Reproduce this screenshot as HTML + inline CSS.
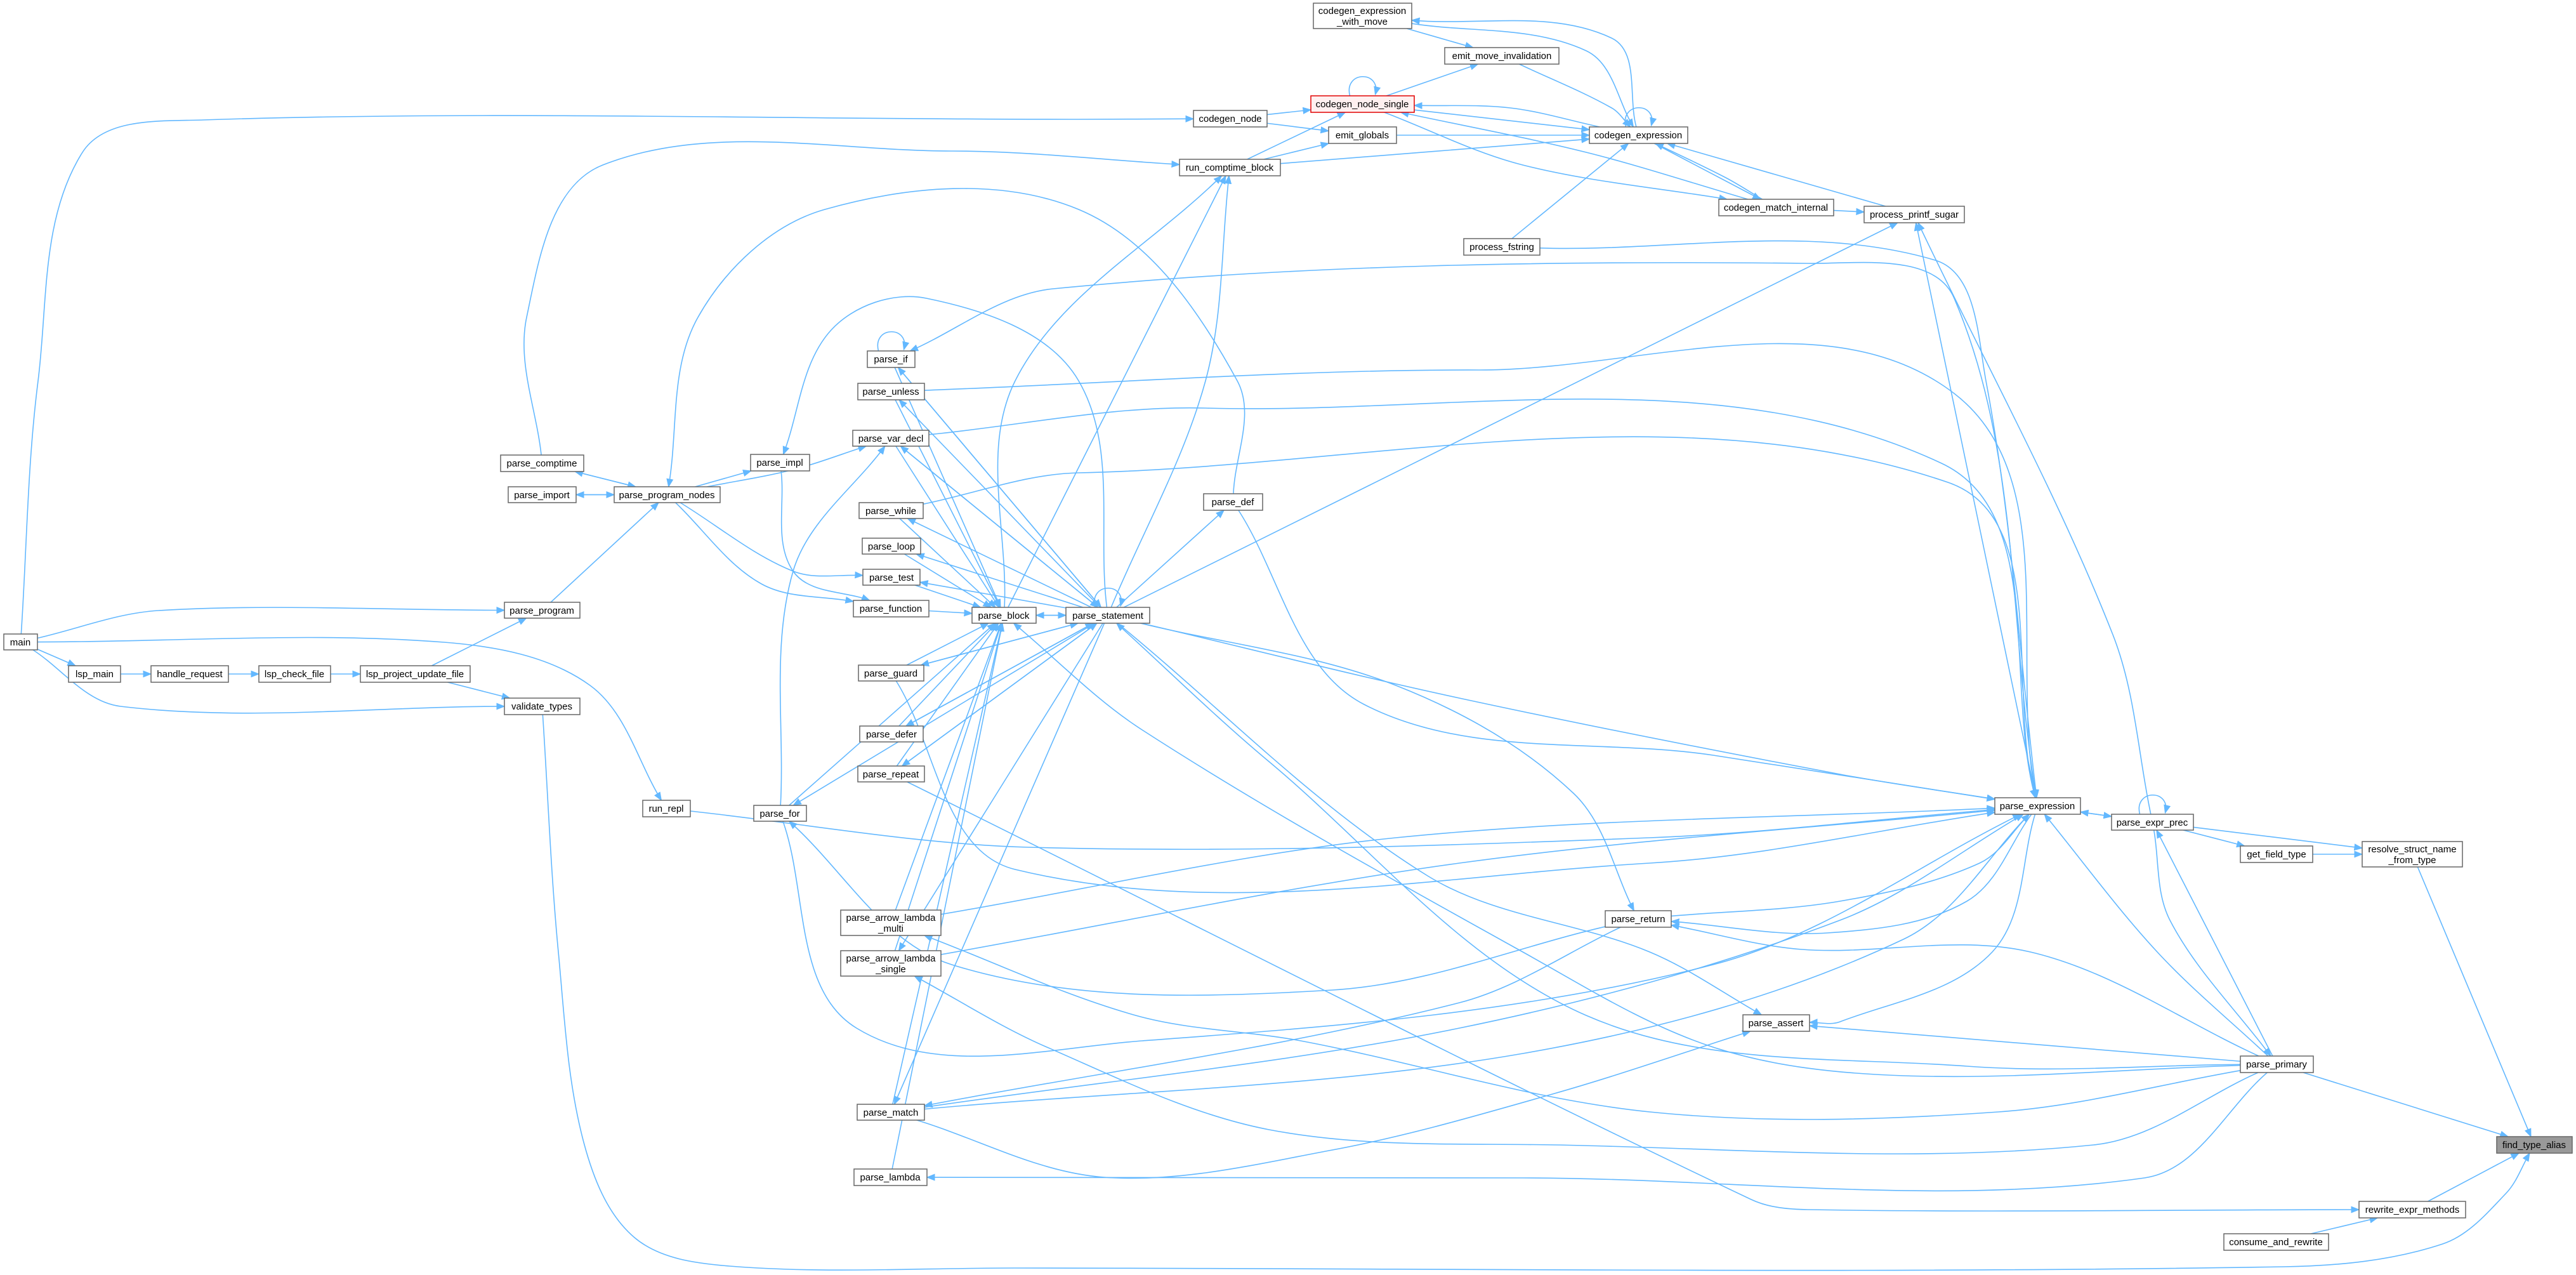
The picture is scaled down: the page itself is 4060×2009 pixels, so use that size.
<!DOCTYPE html>
<html><head><meta charset="utf-8">
<style>
html,body{margin:0;padding:0;background:#fff;}
svg{display:block;}
text{font-family:"Liberation Sans",sans-serif;font-size:15px;fill:#000;}
</style></head>
<body>
<svg id="s" width="4060" height="2009" viewBox="0 0 4060 2009" xmlns="http://www.w3.org/2000/svg">
<defs>
<marker id="a" viewBox="0 0 10 10" refX="9" refY="5" markerWidth="14" markerHeight="14" markerUnits="userSpaceOnUse" orient="auto">
<path d="M0,1 L10,5 L0,9 z" fill="#63b8ff"/></marker>
</defs>
<g id="edges" fill="none" stroke="#63b8ff" stroke-width="1.6"></g>
<g id="nodes" stroke="#666" stroke-width="1.5">
<g id="main"><rect x="6" y="999" width="53" height="25" fill="#fff"/><text x="32" y="1017" text-anchor="middle" stroke="none">main</text></g>
<g id="lsp_main"><rect x="108" y="1049" width="82" height="26" fill="#fff"/><text x="149" y="1067" text-anchor="middle" stroke="none">lsp_main</text></g>
<g id="handle_request"><rect x="238" y="1049" width="122" height="26" fill="#fff"/><text x="299" y="1067" text-anchor="middle" stroke="none">handle_request</text></g>
<g id="lsp_check_file"><rect x="408" y="1049" width="113" height="26" fill="#fff"/><text x="464" y="1067" text-anchor="middle" stroke="none">lsp_check_file</text></g>
<g id="lsp_project_update_file"><rect x="568" y="1049" width="173" height="26" fill="#fff"/><text x="654" y="1067" text-anchor="middle" stroke="none">lsp_project_update_file</text></g>
<g id="parse_program"><rect x="795" y="949" width="119" height="25" fill="#fff"/><text x="854" y="967" text-anchor="middle" stroke="none">parse_program</text></g>
<g id="validate_types"><rect x="795" y="1100" width="119" height="26" fill="#fff"/><text x="854" y="1118" text-anchor="middle" stroke="none">validate_types</text></g>
<g id="run_repl"><rect x="1013" y="1261" width="75" height="26" fill="#fff"/><text x="1050" y="1279" text-anchor="middle" stroke="none">run_repl</text></g>
<g id="parse_comptime"><rect x="789" y="717" width="131" height="26" fill="#fff"/><text x="854" y="735" text-anchor="middle" stroke="none">parse_comptime</text></g>
<g id="parse_import"><rect x="801" y="767" width="107" height="25" fill="#fff"/><text x="854" y="785" text-anchor="middle" stroke="none">parse_import</text></g>
<g id="parse_program_nodes"><rect x="968" y="767" width="167" height="25" fill="#fff"/><text x="1051" y="785" text-anchor="middle" stroke="none">parse_program_nodes</text></g>
<g id="parse_impl"><rect x="1183" y="716" width="93" height="26" fill="#fff"/><text x="1229" y="734" text-anchor="middle" stroke="none">parse_impl</text></g>
<g id="parse_if"><rect x="1367" y="553" width="75" height="26" fill="#fff"/><text x="1404" y="571" text-anchor="middle" stroke="none">parse_if</text></g>
<g id="parse_unless"><rect x="1352" y="604" width="105" height="26" fill="#fff"/><text x="1404" y="622" text-anchor="middle" stroke="none">parse_unless</text></g>
<g id="parse_var_decl"><rect x="1344" y="678" width="120" height="25" fill="#fff"/><text x="1404" y="696" text-anchor="middle" stroke="none">parse_var_decl</text></g>
<g id="parse_while"><rect x="1354" y="792" width="101" height="25" fill="#fff"/><text x="1404" y="810" text-anchor="middle" stroke="none">parse_while</text></g>
<g id="parse_loop"><rect x="1359" y="848" width="92" height="25" fill="#fff"/><text x="1405" y="866" text-anchor="middle" stroke="none">parse_loop</text></g>
<g id="parse_test"><rect x="1360" y="897" width="90" height="25" fill="#fff"/><text x="1405" y="915" text-anchor="middle" stroke="none">parse_test</text></g>
<g id="parse_function"><rect x="1345" y="946" width="119" height="26" fill="#fff"/><text x="1404" y="964" text-anchor="middle" stroke="none">parse_function</text></g>
<g id="parse_def"><rect x="1897" y="778" width="93" height="26" fill="#fff"/><text x="1943" y="796" text-anchor="middle" stroke="none">parse_def</text></g>
<g id="parse_block"><rect x="1532" y="957" width="101" height="25" fill="#fff"/><text x="1582" y="975" text-anchor="middle" stroke="none">parse_block</text></g>
<g id="parse_statement"><rect x="1680" y="957" width="132" height="25" fill="#fff"/><text x="1746" y="975" text-anchor="middle" stroke="none">parse_statement</text></g>
<g id="parse_guard"><rect x="1353" y="1048" width="103" height="25" fill="#fff"/><text x="1404" y="1066" text-anchor="middle" stroke="none">parse_guard</text></g>
<g id="parse_defer"><rect x="1355" y="1144" width="100" height="25" fill="#fff"/><text x="1405" y="1162" text-anchor="middle" stroke="none">parse_defer</text></g>
<g id="parse_repeat"><rect x="1352" y="1207" width="105" height="25" fill="#fff"/><text x="1404" y="1225" text-anchor="middle" stroke="none">parse_repeat</text></g>
<g id="parse_for"><rect x="1188" y="1269" width="83" height="25" fill="#fff"/><text x="1229" y="1287" text-anchor="middle" stroke="none">parse_for</text></g>
<g id="parse_arrow_lambda_multi"><rect x="1325" y="1434" width="158" height="40" fill="#fff"/><text x="1404" y="1451" text-anchor="middle" stroke="none">parse_arrow_lambda</text><text x="1404" y="1468" text-anchor="middle" stroke="none">_multi</text></g>
<g id="parse_arrow_lambda_single"><rect x="1325" y="1498" width="158" height="40" fill="#fff"/><text x="1404" y="1515" text-anchor="middle" stroke="none">parse_arrow_lambda</text><text x="1404" y="1532" text-anchor="middle" stroke="none">_single</text></g>
<g id="parse_match"><rect x="1351" y="1740" width="106" height="25" fill="#fff"/><text x="1404" y="1758" text-anchor="middle" stroke="none">parse_match</text></g>
<g id="parse_lambda"><rect x="1346" y="1842" width="115" height="26" fill="#fff"/><text x="1403" y="1860" text-anchor="middle" stroke="none">parse_lambda</text></g>
<g id="codegen_expression_with_move"><rect x="2070" y="5" width="155" height="40" fill="#fff"/><text x="2147" y="22" text-anchor="middle" stroke="none">codegen_expression</text><text x="2147" y="39" text-anchor="middle" stroke="none">_with_move</text></g>
<g id="emit_move_invalidation"><rect x="2277" y="75" width="180" height="26" fill="#fff"/><text x="2367" y="93" text-anchor="middle" stroke="none">emit_move_invalidation</text></g>
<g id="codegen_node_single"><rect x="2066" y="151" width="163" height="26" fill="#fff0f0" stroke="#e00000"/><text x="2147" y="169" text-anchor="middle" stroke="none">codegen_node_single</text></g>
<g id="codegen_node"><rect x="1881" y="174" width="116" height="26" fill="#fff"/><text x="1939" y="192" text-anchor="middle" stroke="none">codegen_node</text></g>
<g id="emit_globals"><rect x="2094" y="200" width="107" height="26" fill="#fff"/><text x="2147" y="218" text-anchor="middle" stroke="none">emit_globals</text></g>
<g id="codegen_expression"><rect x="2505" y="200" width="155" height="26" fill="#fff"/><text x="2582" y="218" text-anchor="middle" stroke="none">codegen_expression</text></g>
<g id="run_comptime_block"><rect x="1859" y="251" width="159" height="26" fill="#fff"/><text x="1938" y="269" text-anchor="middle" stroke="none">run_comptime_block</text></g>
<g id="codegen_match_internal"><rect x="2709" y="314" width="181" height="26" fill="#fff"/><text x="2799" y="332" text-anchor="middle" stroke="none">codegen_match_internal</text></g>
<g id="process_printf_sugar"><rect x="2938" y="325" width="158" height="26" fill="#fff"/><text x="3017" y="343" text-anchor="middle" stroke="none">process_printf_sugar</text></g>
<g id="process_fstring"><rect x="2307" y="376" width="120" height="26" fill="#fff"/><text x="2367" y="394" text-anchor="middle" stroke="none">process_fstring</text></g>
<g id="parse_expression"><rect x="3144" y="1257" width="135" height="26" fill="#fff"/><text x="3211" y="1275" text-anchor="middle" stroke="none">parse_expression</text></g>
<g id="parse_expr_prec"><rect x="3328" y="1283" width="129" height="25" fill="#fff"/><text x="3392" y="1301" text-anchor="middle" stroke="none">parse_expr_prec</text></g>
<g id="get_field_type"><rect x="3531" y="1333" width="114" height="26" fill="#fff"/><text x="3588" y="1351" text-anchor="middle" stroke="none">get_field_type</text></g>
<g id="resolve_struct_name_from_type"><rect x="3723" y="1326" width="158" height="40" fill="#fff"/><text x="3802" y="1343" text-anchor="middle" stroke="none">resolve_struct_name</text><text x="3802" y="1360" text-anchor="middle" stroke="none">_from_type</text></g>
<g id="parse_return"><rect x="2530" y="1435" width="104" height="26" fill="#fff"/><text x="2582" y="1453" text-anchor="middle" stroke="none">parse_return</text></g>
<g id="parse_assert"><rect x="2747" y="1599" width="105" height="26" fill="#fff"/><text x="2799" y="1617" text-anchor="middle" stroke="none">parse_assert</text></g>
<g id="parse_primary"><rect x="3531" y="1664" width="115" height="26" fill="#fff"/><text x="3588" y="1682" text-anchor="middle" stroke="none">parse_primary</text></g>
<g id="find_type_alias"><rect x="3935" y="1791" width="119" height="26" fill="#999"/><text x="3994" y="1809" text-anchor="middle" stroke="none">find_type_alias</text></g>
<g id="rewrite_expr_methods"><rect x="3718" y="1893" width="168" height="26" fill="#fff"/><text x="3802" y="1911" text-anchor="middle" stroke="none">rewrite_expr_methods</text></g>
<g id="consume_and_rewrite"><rect x="3505" y="1944" width="165" height="26" fill="#fff"/><text x="3587" y="1962" text-anchor="middle" stroke="none">consume_and_rewrite</text></g>
</g>
</svg>
<script>
(function(){
var N={};
document.querySelectorAll('#nodes > g').forEach(function(g){
 var r=g.querySelector('rect');var x=+r.getAttribute('x'),y=+r.getAttribute('y'),w=+r.getAttribute('width'),h=+r.getAttribute('height');
 N[g.id]={cx:x+w/2,cy:y+h/2,hw:w/2,hh:h/2,x:x,y:y,w:w,h:h};
});
function clip(n,p){var dx=p[0]-n.cx,dy=p[1]-n.cy;if(dx==0&&dy==0)return [n.cx,n.cy];
 var t=Math.min(dx?n.hw/Math.abs(dx):1e9,dy?n.hh/Math.abs(dy):1e9);return [n.cx+dx*t,n.cy+dy*t];}
var G=document.getElementById('edges');
function path(d){var p=document.createElementNS('http://www.w3.org/2000/svg','path');p.setAttribute('d',d);p.setAttribute('marker-end','url(#a)');G.appendChild(p);}
function nrm(v){var l=Math.hypot(v[0],v[1])||1;return [v[0]/l,v[1]/l];}
function E(a,b,w){w=w||[];var A=N[a],B=N[b];
 var first=w.length?w[0]:[B.cx,B.cy],last=w.length?w[w.length-1]:[A.cx,A.cy];
 var s=clip(A,first),e=clip(B,last);
 var pts=[s].concat(w).concat([e]);
 var d='M'+pts[0][0]+','+pts[0][1];
 for(var i=0;i<pts.length-1;i++){var p0=pts[i-1]||pts[i],p1=pts[i],p2=pts[i+1],p3=pts[i+2]||p2;
  var L=Math.hypot(p2[0]-p1[0],p2[1]-p1[1])/3;
  var t1=nrm([p2[0]-p0[0],p2[1]-p0[1]]),t2=nrm([p3[0]-p1[0],p3[1]-p1[1]]);
  var c1=[p1[0]+t1[0]*L,p1[1]+t1[1]*L],c2=[p2[0]-t2[0]*L,p2[1]-t2[1]*L];
  d+=' C'+c1[0].toFixed(1)+','+c1[1].toFixed(1)+' '+c2[0].toFixed(1)+','+c2[1].toFixed(1)+' '+p2[0].toFixed(1)+','+p2[1].toFixed(1);}
 path(d);}
function loop(n){var A=N[n];var x1=A.cx-20,x2=A.cx+20,y=A.y;
 path('M'+x1+','+y+' C'+(x1-10)+','+(y-40)+' '+(x2+10)+','+(y-40)+' '+x2+','+(y-2));}
E('main','lsp_main');
E('main','parse_program',[[250,962]]);
E('main','validate_types',[[190,1113]]);
E('main','run_repl',[[700,1012],[930,1080]]);
E('main','codegen_node',[[60,600],[130,240],[320,189],[1700,188]]);
E('lsp_main','handle_request');E('handle_request','lsp_check_file');E('lsp_check_file','lsp_project_update_file');
E('lsp_project_update_file','parse_program');E('lsp_project_update_file','validate_types');
E('parse_program','parse_program_nodes');
E('parse_program_nodes','parse_comptime');E('parse_comptime','parse_program_nodes');
E('parse_program_nodes','parse_import');E('parse_import','parse_program_nodes');
E('parse_comptime','run_comptime_block',[[830,500],[950,260],[1500,238]]);
E('parse_program_nodes','parse_impl');
E('parse_program_nodes','parse_var_decl',[[1250,740]]);
E('parse_program_nodes','parse_test',[[1250,900]]);
E('parse_program_nodes','parse_function',[[1200,920]]);
E('parse_def','parse_program_nodes',[[1950,600],[1700,330],[1300,330],[1100,500]]);
E('parse_impl','parse_function',[[1250,900]]);
E('parse_statement','parse_impl',[[1700,600],[1460,470],[1310,520]]);
loop('parse_if');loop('parse_statement');
var L=['parse_if','parse_unless','parse_var_decl','parse_while','parse_loop','parse_test','parse_function','parse_guard','parse_defer','parse_repeat','parse_for','parse_arrow_lambda_multi','parse_arrow_lambda_single','parse_match','parse_lambda'];
L.forEach(function(n){E(n,'parse_block');});
['parse_if','parse_unless','parse_var_decl','parse_while','parse_loop','parse_test','parse_guard','parse_defer','parse_repeat','parse_for','parse_match','parse_arrow_lambda_single'].forEach(function(n){E('parse_statement',n);});
E('parse_if','parse_statement');E('parse_var_decl','parse_statement');E('parse_guard','parse_statement');E('parse_defer','parse_statement');E('parse_repeat','parse_statement');
E('parse_block','parse_statement');E('parse_statement','parse_block');
E('parse_for','parse_var_decl',[[1250,900]]);
E('parse_block','run_comptime_block');E('parse_block','run_comptime_block',[[1600,600]]);E('parse_statement','run_comptime_block',[[1900,600]]);
E('parse_statement','parse_def');
E('parse_statement','process_printf_sugar');
E('parse_expression','parse_if',[[3080,470],[2850,415],[1660,455]]);
E('parse_unless','parse_expression',[[2330,583],[3080,620]]);
E('parse_var_decl','parse_expression',[[1900,643],[3060,730]]);
E('parse_while','parse_expression',[[1700,745],[3070,760]]);
E('parse_def','parse_expression',[[2150,1110],[2700,1190]]);
E('parse_statement','parse_expression',[[2300,1100],[2900,1220]]);
E('run_repl','parse_expression',[[1620,1335],[2600,1320]]);
E('parse_guard','parse_expression',[[1600,1370],[2600,1360]]);
E('parse_arrow_lambda_multi','parse_expression',[[2200,1320]]);
E('parse_arrow_lambda_single','parse_expression',[[2300,1360]]);
E('parse_for','parse_expression',[[1350,1620],[1800,1640],[2700,1520]]);
E('parse_match','parse_expression',[[2300,1620],[2900,1450]]);
E('parse_match','parse_expression',[[2400,1660],[3000,1480]]);
E('parse_return','parse_expression',[[2900,1420],[3120,1360]]);
E('parse_expression','parse_assert',[[3140,1500],[2900,1610]]);
E('parse_primary','parse_expression',[[3400,1500]]);
E('process_fstring','parse_expression',[[3050,410],[3130,600]]);
E('parse_expression','process_printf_sugar');
E('parse_expr_prec','process_printf_sugar',[[3330,1000]]);
E('parse_expression','parse_expr_prec');E('parse_expr_prec','parse_expression');
loop('parse_expr_prec');
E('parse_expr_prec','get_field_type');E('parse_expr_prec','resolve_struct_name_from_type');
E('get_field_type','resolve_struct_name_from_type');
E('resolve_struct_name_from_type','find_type_alias');
E('parse_primary','parse_expr_prec');E('parse_expr_prec','parse_primary',[[3420,1450]]);
E('parse_primary','find_type_alias');
E('rewrite_expr_methods','find_type_alias');
E('consume_and_rewrite','rewrite_expr_methods');
E('validate_types','find_type_alias',[[880,1500],[920,1800],[1000,1950],[1150,1995],[1600,1998],[3600,1996],[3850,1960],[3950,1880]]);
E('parse_repeat','rewrite_expr_methods',[[2760,1890],[2850,1906]]);
E('parse_primary','parse_return',[[3200,1500],[2840,1496]]);
E('parse_expression','parse_return',[[3100,1420],[2880,1470]]);
E('parse_statement','parse_return',[[2200,1080],[2480,1250]]);
E('parse_statement','parse_assert',[[2250,1380],[2600,1500]]);
E('parse_primary','parse_assert');
E('parse_match','parse_assert',[[1740,1855],[2100,1812],[2450,1723]]);
E('parse_return','parse_match',[[2300,1580]]);
E('parse_return','parse_for',[[2100,1560],[1500,1520]]);
E('parse_primary','parse_block',[[3000,1695],[2700,1650],[2400,1500],[1800,1150]]);
E('parse_primary','parse_statement',[[3100,1680],[2500,1600],[2000,1200]]);
E('parse_primary','parse_arrow_lambda_multi',[[3150,1752],[2600,1752],[2050,1640],[1790,1600]]);
E('parse_primary','parse_arrow_lambda_single',[[3300,1804],[2450,1804],[2000,1780],[1650,1650]]);
E('parse_primary','parse_lambda',[[3380,1856],[2400,1856]]);
E('codegen_node','codegen_node_single');E('codegen_node','emit_globals');
E('run_comptime_block','codegen_node_single');E('run_comptime_block','emit_globals');E('run_comptime_block','codegen_expression');
loop('codegen_node_single');loop('codegen_expression');
E('codegen_node_single','emit_move_invalidation');
E('codegen_node_single','codegen_expression');E('codegen_expression','codegen_node_single',[[2380,170]]);
E('codegen_node_single','codegen_match_internal',[[2400,260]]);
E('codegen_match_internal','codegen_node_single',[[2500,240]]);
E('emit_globals','codegen_expression');
E('codegen_expression_with_move','emit_move_invalidation');
E('codegen_expression_with_move','codegen_expression',[[2500,80]]);
E('codegen_expression','codegen_expression_with_move',[[2540,60]]);
E('emit_move_invalidation','codegen_expression',[[2540,170]]);
E('codegen_expression','codegen_match_internal');E('codegen_match_internal','codegen_expression',[[2720,280]]);
E('codegen_match_internal','process_printf_sugar');
E('process_printf_sugar','codegen_expression');
E('process_fstring','codegen_expression');
})();
</script>
</body></html>
